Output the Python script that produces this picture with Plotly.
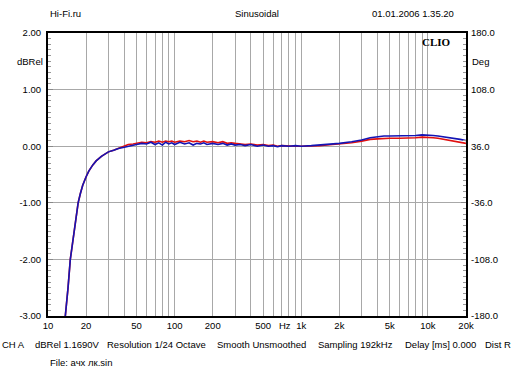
import plotly.graph_objects as go
import math

freq = [13.7, 14.0, 14.4, 15.0, 15.5, 16.0, 16.6, 17.3, 18.0, 18.8, 20, 21, 22.6, 24, 26.4, 28,
        30, 33, 36, 40, 43, 47,
        50, 55, 60, 65, 70, 75, 80, 85, 90, 95, 100, 110, 120, 130, 140, 150, 160, 170, 180,
        200, 220, 240, 260, 280, 300, 330, 360, 400, 450, 500, 550, 600, 650, 700, 800, 900,
        1000, 1200, 1400, 1600, 1800, 2000, 2500, 3000, 3500, 4000, 4500, 5000, 6000, 7000,
        8000, 9000, 10000, 11000, 12000, 14000, 16000, 18000, 20000]

blue_db = [-3.0, -2.8, -2.5, -2.0, -1.75, -1.5, -1.25, -1.0, -0.84, -0.69, -0.54, -0.44, -0.33,
           -0.26, -0.18, -0.14, -0.10, -0.07, -0.04, -0.02, 0.0, 0.02,
           0.03, 0.05, 0.04, 0.07, 0.03, 0.06, 0.02, 0.07, 0.04, 0.06, 0.03, 0.07, 0.04, 0.06,
           0.02, 0.05, 0.04, 0.06, 0.03,
           0.05, 0.03, 0.05, 0.02, 0.04, 0.02, 0.03, 0.01, 0.03, 0.0, 0.02, 0.0, 0.01, -0.01,
           0.01, 0.0, 0.01,
           0.0, 0.01, 0.02, 0.03, 0.04, 0.05, 0.08, 0.11, 0.15, 0.17, 0.18, 0.18, 0.18, 0.18,
           0.19, 0.20, 0.20, 0.19, 0.18, 0.16, 0.14, 0.12, 0.10]

red_db = [-3.0, -2.8, -2.5, -2.0, -1.75, -1.5, -1.25, -1.0, -0.84, -0.69, -0.54, -0.44, -0.33,
          -0.26, -0.18, -0.14, -0.10, -0.07, -0.04, 0.0, 0.03, 0.04,
          0.05, 0.07, 0.06, 0.08, 0.07, 0.09, 0.07, 0.09, 0.08, 0.09, 0.07, 0.09, 0.08, 0.10,
          0.08, 0.09, 0.07, 0.09, 0.07,
          0.08, 0.06, 0.08, 0.05, 0.06, 0.05, 0.04, 0.03, 0.04, 0.02, 0.03, 0.01, 0.02, 0.0,
          0.01, 0.0, 0.0,
          0.0, 0.0, 0.01, 0.02, 0.03, 0.04, 0.06, 0.09, 0.12, 0.13, 0.14, 0.14, 0.14, 0.14,
          0.15, 0.16, 0.16, 0.15, 0.14, 0.11, 0.09, 0.07, 0.05]

grid_freqs = [10, 20, 30, 40, 50, 60, 70, 80, 90, 100, 200, 300, 400, 500, 600, 700, 800, 900,
              1000, 2000, 3000, 4000, 5000, 6000, 7000, 8000, 9000, 10000, 20000]
label_map = {10: "10", 20: "20", 50: "50", 100: "100", 200: "200", 500: "500", 1000: "1k",
             2000: "2k", 5000: "5k", 10000: "10k", 20000: "20k"}
x_ticktext = [label_map.get(f, "") for f in grid_freqs]

y_left_vals = [2, 1, 0, -1, -2, -3]
y_left_text = ["2.00", "1.00", "0.00", "-1.00", "-2.00", "-3.00"]
y_right_vals = [180, 108, 36, -36, -108, -180]
y_right_text = ["180.0", "108.0", "36.0", "-36.0", "-108.0", "-180.0"]

status_items = ["CH A", "dBRel 1.1690V", "Resolution 1/24 Octave", "Smooth Unsmoothed",
                "Sampling 192kHz", "Delay [ms] 0.000", "Dist R"]
status_x = [0, 33, 105, 215, 316, 403, 488]

FONT = "Liberation Sans, Arial, sans-serif"
FS = 9.5

fig = go.Figure()
fig.add_trace(go.Scatter(x=freq, y=red_db, mode="lines", line=dict(color="#e01010", width=1.6),
                         showlegend=False))
fig.add_trace(go.Scatter(x=freq, y=blue_db, mode="lines", line=dict(color="#1414b4", width=1.6),
                         showlegend=False))
fig.add_trace(go.Scatter(x=[10], y=[None], yaxis="y2", showlegend=False, hoverinfo="skip"))

fig.update_layout(
    width=513, height=384,
    margin=dict(l=48, r=47, t=33, b=68),
    paper_bgcolor="white", plot_bgcolor="white",
    font=dict(family=FONT, size=FS, color="black"),
    xaxis=dict(type="log", range=[1, math.log10(20000)], tickvals=grid_freqs, ticktext=x_ticktext,
               showgrid=True, gridcolor="#a8a8a8", gridwidth=1, ticks="", zeroline=False,
               showline=True, linecolor="black", linewidth=2, mirror=True,
               tickfont=dict(size=FS), fixedrange=True),
    yaxis=dict(range=[-3, 2], tickvals=y_left_vals, ticktext=y_left_text, showgrid=True,
               gridcolor="#a8a8a8", gridwidth=1, zeroline=False, showline=True,
               linecolor="black", linewidth=2, mirror=True, ticks="inside", ticklen=5,
               tickcolor="#888888", ticklabelstandoff=3,
               minor=dict(dtick=0.1, ticks="inside", ticklen=3, tickcolor="#999999", showgrid=False),
               tickfont=dict(size=FS)),
    yaxis2=dict(range=[-180, 180], overlaying="y", side="right", tickvals=y_right_vals,
                ticktext=y_right_text, showgrid=False, zeroline=False, ticks="inside",
                ticklen=5, tickcolor="#888888", ticklabelstandoff=4,
                minor=dict(dtick=7.2, ticks="inside", ticklen=3, tickcolor="#999999"),
                tickfont=dict(size=FS)),
)

pl, pr, pt, pb = 48, 466, 33, 316


def px_anno(text, x, y, xanchor, font=None):
    fig.add_annotation(text=text, x=(x - pl) / (pr - pl), y=(pb - y) / (pb - pt),
                       xref="paper", yref="paper", xanchor=xanchor, yanchor="middle",
                       showarrow=False, font=font or dict(family=FONT, size=FS, color="black"))


px_anno("Hi-Fi.ru", 48, 14, "left")
px_anno("Sinusoidal", 257, 14, "center")
px_anno("01.01.2006 1.35.20", 456, 14, "right")
px_anno("dBRel", 45, 62, "right")
px_anno("Deg", 470, 62, "left")
for t, x in zip(status_items, status_x):
    if t == "Dist R":
        px_anno(t, 513, 344, "right")
    else:
        px_anno(t, x, 344, "left")
px_anno("File: ачх лк.sin", 48, 362, "left")
px_anno("<b>CLIO</b>", 453, 42, "right",
        dict(family="Liberation Serif, Times New Roman, serif", size=11, color="black"))

fig.add_annotation(text="Hz", x=math.log10(745), y=(pb - 325.5) / (pb - pt), xref="x", yref="paper",
                   showarrow=False, yanchor="middle", font=dict(family=FONT, size=FS, color="black"))

fig.write_html("out.html", config={"displayModeBar": False},
               post_script="document.body.style.margin='0';document.body.style.overflow='hidden';")
